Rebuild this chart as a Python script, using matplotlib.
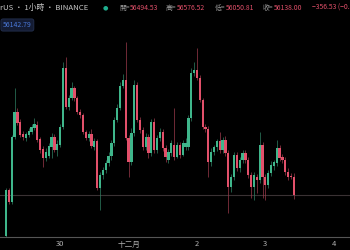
import matplotlib
matplotlib.use("Agg")
import matplotlib.pyplot as plt
import numpy as np

opens = [55327, 56238, 56000, 57287, 57782, 57584, 57347, 57268, 57327, 57386,
         57466, 57525, 57248, 57050, 56872, 56911, 57089, 57287, 57030, 57129,
         57485, 58654, 57881, 58060, 58258, 58060, 57782, 57723, 57386, 57268,
         57347, 57089, 57208, 56278, 56535, 56634, 56773, 56911, 57169, 57624,
         57862, 58297, 58416, 57268, 56792, 57367, 58317, 57624, 57426, 57089,
         57287, 56971, 57584, 57030, 57268, 57386, 57070, 56832, 56971, 57129,
         56891, 57129, 56931, 57089, 57089, 57664, 58555, 58614, 58456, 58020,
         57485, 57446, 56792, 56990, 57089, 57208, 57030, 57228, 56971, 56297,
         56495, 56931, 56674, 56832, 56971, 56832, 56535, 56297, 56495, 56436,
         57129, 56495, 56337, 56575, 56713, 56773, 57070, 56891, 56832, 56594,
         56515, 56494.53]
highs = [56278, 56278, 57327, 58258, 57862, 57644, 57406, 57386, 57466, 57545,
         57664, 57604, 57287, 57109, 57070, 57169, 57367, 57347, 57228, 57545,
         58772, 58871, 58119, 58376, 58297, 58099, 57842, 57763, 57426, 57406,
         57446, 57268, 57248, 56594, 56693, 56832, 56990, 57228, 57683, 57941,
         58376, 58535, 59168, 57327, 57466, 58416, 58376, 57683, 57485, 57367,
         57347, 57644, 57664, 57327, 57466, 57446, 57129, 57050, 57228, 57862,
         57188, 57188, 57228, 57268, 57723, 58654, 58772, 59050, 58515, 58060,
         57545, 57505, 57070, 57129, 57248, 57386, 57287, 57307, 57030, 56555,
         56990, 56990, 56891, 57030, 57030, 56891, 56594, 56594, 56555, 57386,
         57188, 56555, 56634, 56812, 56832, 57228, 57129, 56951, 56891, 56674,
         56575, 56576.52]
lows = [55307, 55961, 55961, 57248, 57525, 57287, 57228, 57208, 57287, 57347,
        57426, 57188, 56971, 56693, 56812, 56872, 56872, 56990, 56911, 57089,
        57446, 57842, 57822, 58020, 58000, 57743, 57664, 57347, 57228, 57208,
        57070, 57030, 56238, 55842, 56456, 56575, 56713, 56832, 57109, 57584,
        57822, 58258, 57228, 56495, 56733, 57307, 57584, 57367, 57030, 57030,
        56872, 56911, 56971, 56971, 57208, 57010, 56792, 56773, 56911, 56832,
        56872, 56872, 56911, 57030, 57030, 57604, 58495, 58416, 57980, 57446,
        57386, 56495, 56713, 56931, 57010, 56971, 56971, 56911, 55783, 56198,
        56436, 56614, 56594, 56773, 56773, 56476, 56080, 56040, 56179, 56377,
        56080, 56040, 56278, 56515, 56634, 56713, 56812, 56773, 56535, 56436,
        56456, 56050.81]
closes = [56238, 56000, 57287, 57782, 57565, 57327, 57287, 57347, 57406, 57485,
          57545, 57228, 57030, 56872, 56990, 57109, 57287, 57030, 57149, 57485,
          58654, 57881, 58060, 58258, 58060, 57782, 57723, 57386, 57268, 57347,
          57109, 57208, 56278, 56535, 56634, 56773, 56911, 57169, 57624, 57862,
          58297, 58416, 57268, 56792, 57367, 58317, 57624, 57426, 57089, 57287,
          56971, 57584, 57030, 57268, 57386, 57070, 56891, 56990, 57169, 56891,
          57129, 56931, 57169, 57169, 57664, 58555, 58614, 58456, 58020, 57485,
          57446, 56792, 56990, 57089, 57208, 57030, 57228, 56971, 56297, 56495,
          56931, 56674, 56832, 56971, 56832, 56535, 56297, 56535, 56436, 57129,
          56495, 56337, 56575, 56733, 56792, 57070, 56872, 56832, 56594, 56495,
          56495, 56138.00]
tick_index = [19, 43, 67, 91, 115]
tick_labels = ["30", "十二月", "2", "3", "4"]
last_price = 56138.00
label_price = "56142.79"
header_left = "rUS · 1小時 · BINANCE"
ohlc_labels = ["開", "高", "低", "收"]
ohlc_values = ["56494.53", "56576.52", "56050.81", "56138.00"]
change_text = "−356.53 (−0.63%)"

UP = "#3fb68b"
DOWN = "#e2506a"
UP_W = "#2f7f63"
DOWN_W = "#9c3a4b"
BG = "#000000"

plt.rcParams['font.family'] = ['Noto Sans CJK TC', 'DejaVu Sans']

fig = plt.figure(figsize=(3.5, 2.5), dpi=100, facecolor=BG)
ax = fig.add_axes([0, 13/250, 1, 237/250], facecolor=BG)

o = np.array(opens); h = np.array(highs); l = np.array(lows); c = np.array(closes)
x = np.arange(len(o))
up = c >= o
col = np.where(up, UP, DOWN)
wcol = np.where(up, UP_W, DOWN_W)

ax.axhline(last_price, color="#3a3234", lw=0.8, zorder=1)
ax.vlines(x, l, h, colors=wcol, lw=0.5, zorder=2)
ax.bar(x, np.abs(c - o) + 8, bottom=np.minimum(o, c) - 4, width=0.8,
       color=col, linewidth=0, zorder=3)

ax.set_xlim(-2.1, 120.7)
ax.set_ylim(55307, 60000)
ax.set_yticks([])
ax.set_xticks(tick_index)
ax.set_xticklabels(tick_labels, fontsize=5.5, color="#b0b0b0")
ax.tick_params(axis='x', length=0, pad=2.5)
for s in ["top", "left", "right"]:
    ax.spines[s].set_visible(False)
ax.spines["bottom"].set_color("#555555")
ax.spines["bottom"].set_linewidth(0.8)

# header
yh = 1 - 8/250
fig.text(0.0, yh, header_left, fontsize=5.6, color="#c8c8c8", va="center", ha="left")
fig.text(105/350, yh, "●", fontsize=4.5, color="#1fae8e", va="center", ha="center",
         family=['DejaVu Sans'])
renderer = fig.canvas.get_renderer()
starts = [119, 166, 215, 263]
for lab, v, px in zip(ohlc_labels, ohlc_values, starts):
    t = fig.text(px/350, yh, lab + "=", fontsize=4.9, color="#9a9a9a",
                 va="center", ha="left")
    bb = t.get_window_extent(renderer)
    fig.text(bb.x1/350, yh, v, fontsize=4.9, color=DOWN, va="center", ha="left")
fig.text(312/350, yh, change_text, fontsize=4.9, color=DOWN, va="center", ha="left")
fig.text(3/350, 1 - 25/250, label_price, fontsize=5.0, color="#4a78d8", va="center",
         ha="left", bbox=dict(boxstyle="round,pad=0.3", fc="#141c33", ec="#24304f", lw=0.6))

fig.savefig("out.png", dpi=100, facecolor=BG)
